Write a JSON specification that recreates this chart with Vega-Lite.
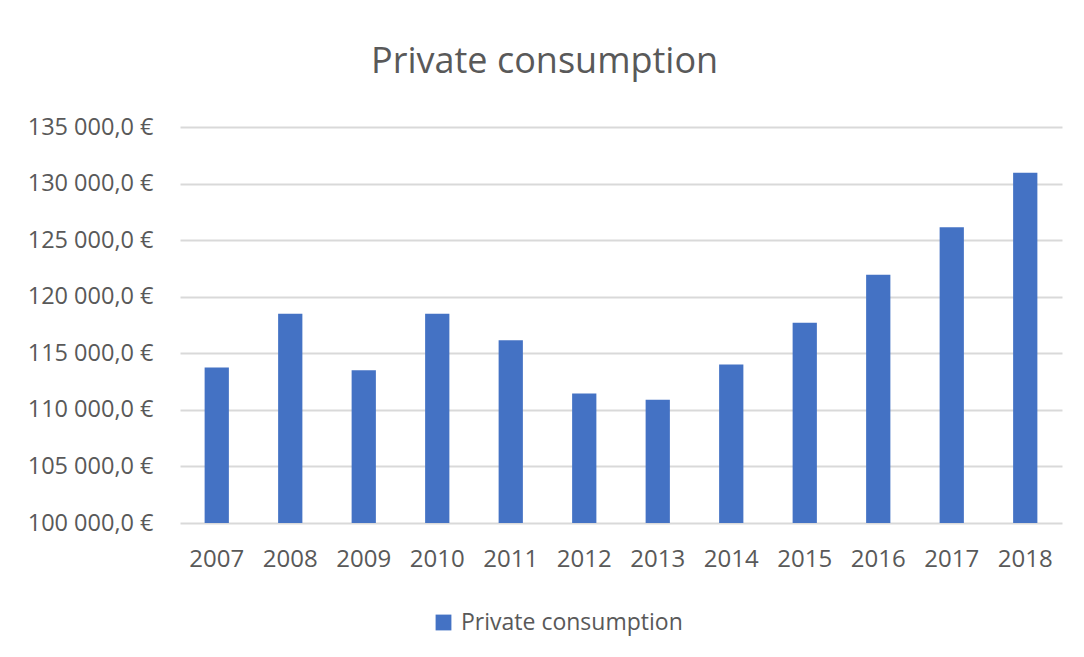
{
  "$schema": "https://vega.github.io/schema/vega-lite/v6.json",
  "autosize": "none",
  "width": 882,
  "height": 396,
  "padding": {"left": 180, "top": 127, "right": 22, "bottom": 134},
  "background": "white",
  "title": {
    "text": "Private consumption",
    "anchor": "middle",
    "frame": "bounds",
    "font": "Open Sans",
    "fontSize": 36,
    "fontWeight": "normal",
    "color": "#595959",
    "offset": 34
  },
  "data": {
    "values": [
      {"year": "2007", "value": 113750, "series": "Private consumption"},
      {"year": "2008", "value": 118500, "series": "Private consumption"},
      {"year": "2009", "value": 113500, "series": "Private consumption"},
      {"year": "2010", "value": 118500, "series": "Private consumption"},
      {"year": "2011", "value": 116150, "series": "Private consumption"},
      {"year": "2012", "value": 111450, "series": "Private consumption"},
      {"year": "2013", "value": 110900, "series": "Private consumption"},
      {"year": "2014", "value": 114000, "series": "Private consumption"},
      {"year": "2015", "value": 117700, "series": "Private consumption"},
      {"year": "2016", "value": 121950, "series": "Private consumption"},
      {"year": "2017", "value": 126150, "series": "Private consumption"},
      {"year": "2018", "value": 130950, "series": "Private consumption"}
    ]
  },
  "mark": {"type": "bar", "clip": true},
  "encoding": {
    "x": {
      "field": "year",
      "type": "ordinal",
      "scale": {"paddingInner": 0.67, "paddingOuter": 0.335},
      "axis": {
        "title": null,
        "labelAngle": 0,
        "labelFont": "Open Sans",
        "labelFontSize": 24,
        "labelColor": "#595959",
        "labelPadding": 24,
        "ticks": false,
        "domain": false,
        "grid": false
      }
    },
    "y": {
      "field": "value",
      "type": "quantitative",
      "scale": {"domain": [100000, 135000], "nice": false, "zero": false},
      "axis": {
        "title": null,
        "values": [100000, 105000, 110000, 115000, 120000, 125000, 130000, 135000],
        "labelExpr": "replace(replace(format(datum.value, ',.1f'), ',', ' '), '.', ',') + ' €'",
        "labelFont": "Open Sans",
        "labelFontSize": 23.5,
        "labelColor": "#595959",
        "labelPadding": 27,
        "ticks": false,
        "domain": false,
        "grid": true,
        "gridColor": "#d9d9d9",
        "gridWidth": 2
      }
    },
    "color": {
      "field": "series",
      "type": "nominal",
      "scale": {"range": ["#4472C4"]},
      "legend": {
        "title": null,
        "orient": "none",
        "legendX": 252,
        "legendY": 484,
        "direction": "horizontal",
        "symbolType": "square",
        "symbolSize": 250,
        "symbolStrokeWidth": 0,
        "labelFont": "Open Sans",
        "labelFontSize": 23,
        "labelLimit": 400,
        "labelColor": "#595959",
        "labelOffset": 6
      }
    }
  },
  "config": {"view": {"stroke": null}}
}
